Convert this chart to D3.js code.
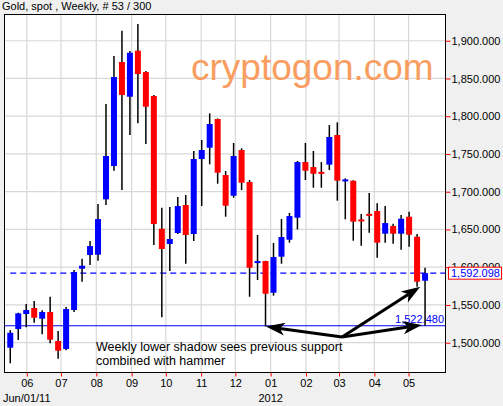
<!DOCTYPE html>
<html><head><meta charset="utf-8">
<script src="https://cdn.jsdelivr.net/npm/d3@7/dist/d3.min.js"></script>
<style>
html,body{margin:0;padding:0;background:#f0f0f0;}
svg{display:block;font-family:"Liberation Sans",Arial,sans-serif;}
</style></head>
<body>
<svg id="chart" width="503" height="406"></svg>
<script>
// ---- data (weekly gold spot candles) ----
const title = "Gold, spot , Weekly, # 53 / 300";
const firstWeek = "2011-05-17T12:00:00Z";
const open  = [1493.4,1518.1,1538.0,1546.0,1531.8,1540.7,1502.3,1491.7,1543.3,1598.0,1616.2,1616.6,1689.9,1734.0,1871.8,1825.8,1886.8,1858.5,1826.8,1651.0,1630.7,1645.3,1682.4,1644.0,1743.3,1758.3,1796.3,1722.1,1694.7,1755.2,1712.9,1606.2,1608.2,1566.2,1613.9,1636.4,1665.6,1739.3,1732.7,1725.4,1735.8,1775.1,1714.4,1714.6,1662.6,1669.9,1674.4,1644.4,1654.6,1644.4,1666.9,1640.4,1582.1];
const high  = [1516.7,1539.7,1551.3,1555.2,1542.9,1560.9,1515.5,1547.3,1596.3,1611.3,1634.7,1683.7,1816.2,1879.7,1913.2,1886.4,1922.1,1859.9,1828.1,1678.8,1679.7,1693.0,1695.6,1753.9,1768.5,1803.8,1797.0,1727.4,1764.5,1757.5,1715.5,1642.7,1608.5,1632.0,1663.8,1671.8,1740.7,1764.5,1753.9,1739.3,1788.3,1791.9,1717.7,1715.1,1670.5,1698.3,1684.6,1681.0,1657.6,1669.1,1673.5,1644.0,1599.3];
const low   = [1472.7,1503.6,1520.4,1526.5,1511.1,1499.2,1478.8,1489.9,1540.7,1580.8,1602.9,1608.6,1682.4,1727.8,1702.2,1775.1,1790.6,1763.2,1629.4,1533.6,1595.0,1644.0,1604.6,1634.7,1681.0,1736.3,1710.6,1666.9,1692.0,1702.2,1560.9,1583.0,1521.5,1562.3,1604.6,1632.5,1650.0,1715.5,1705.3,1705.3,1728.7,1688.1,1663.5,1635.1,1628.5,1645.7,1612.6,1632.5,1631.1,1623.2,1627.2,1574.2,1522.48];
const close = [1513.2,1538.9,1543.3,1533.1,1540.7,1504.0,1489.4,1544.6,1593.6,1602.0,1628.0,1663.8,1747.3,1851.9,1828.1,1884.1,1855.9,1812.6,1657.2,1624.1,1637.4,1681.0,1642.7,1743.3,1755.2,1789.7,1725.2,1681.5,1747.3,1711.9,1599.3,1607.4,1564.9,1613.5,1640.0,1667.8,1739.3,1727.8,1723.8,1724.6,1772.5,1714.6,1715.6,1660.3,1661.4,1668.8,1632.5,1658.5,1644.4,1664.2,1643.0,1580.8,1592.098];
const priceTicks = [1500,1550,1600,1650,1700,1750,1800,1850,1900];
const monthTicks = ["2011-06-01","2011-07-01","2011-08-01","2011-09-01","2011-10-01","2011-11-01","2011-12-01","2012-01-01","2012-02-01","2012-03-01","2012-04-01","2012-05-01"];
const lastPrice = 1592.098;
const supportPrice = 1522.48;
const xDomain = ["2011-05-12T00:00:00Z","2012-06-02T00:00:00Z"];
const yDomain = [1461.2, 1935.4];
const watermark = "cryptogon.com";
const noteLines = ["Weekly lower shadow sees previous support","combined with hammer"];
// arrow anchors: [candle index, price]
const arrowFrom = [41.6, 1507.5];
const arrowTips = [[32.05, 1521.5],[51.4, 1574.2],[51.6, 1523.6]];

// ---- layout ----
const W = 503, H = 406;
const L = 4, T = 14, R = 445, B = 372;
const svg = d3.select("#chart");
const t0 = new Date(firstWeek);
const dates = open.map((_, i) => d3.utcDay.offset(t0, 7 * i));
const x = d3.scaleUtc().domain(xDomain.map(d => new Date(d))).range([L, R]);
const y = d3.scaleLinear().domain(yDomain).range([B, T]);
const xi = i => x(d3.utcHour.offset(t0, Math.round(i * 168)));
const months = monthTicks.map(s => new Date(s + "T00:00:00Z"));

svg.append("rect").attr("width", W).attr("height", H).attr("fill", "#f0f0f0");
svg.append("rect").attr("x", L).attr("y", T).attr("width", R - L).attr("height", B - T).attr("fill", "#fff");

// title
svg.append("text").attr("x", 2).attr("y", 10).attr("font-size", 11).attr("fill", "#000").text(title);

// grid
const g = svg.append("g").attr("stroke", "#d8d8d8").attr("stroke-width", 1.2);
months.forEach(m => g.append("line").attr("x1", x(m)).attr("x2", x(m)).attr("y1", T).attr("y2", B));
priceTicks.forEach(p => g.append("line").attr("x1", L).attr("x2", R).attr("y1", y(p)).attr("y2", y(p)));

// watermark
svg.append("text").attr("x", 191).attr("y", 80).attr("font-size", 37).attr("fill", "#f99d60").text(watermark);

// support & last price lines
svg.append("line").attr("x1", L).attr("x2", R).attr("y1", y(supportPrice)).attr("y2", y(supportPrice))
  .attr("stroke", "#0000ee").attr("stroke-width", 1.2);
svg.append("line").attr("x1", x(dates[0])).attr("x2", R).attr("y1", y(lastPrice)).attr("y2", y(lastPrice))
  .attr("stroke", "#0000ff").attr("stroke-width", 1.3).attr("stroke-dasharray", "6,4");

// support label
svg.append("text").attr("x", R - 1).attr("y", y(supportPrice) - 2.5).attr("text-anchor", "end")
  .attr("font-size", 11).attr("fill", "#0000ff").text(d3.format(",.3f")(supportPrice));

// candles
const bw = 6;
const cg = svg.append("g");
dates.forEach((d, i) => {
  const cx = x(d);
  cg.append("line").attr("x1", cx).attr("x2", cx).attr("y1", y(high[i])).attr("y2", y(low[i]))
    .attr("stroke", "#000").attr("stroke-width", 1.5);
});
dates.forEach((d, i) => {
  const cx = x(d);
  const up = close[i] >= open[i];
  const top = y(Math.max(open[i], close[i])), bot = y(Math.min(open[i], close[i]));
  const h = Math.max(bot - top, 2);
  cg.append("rect").attr("x", cx - bw / 2).attr("y", (top + bot) / 2 - h / 2).attr("width", bw).attr("height", h)
    .attr("fill", up ? "#0000ff" : "#ff0000");
});

// annotation
const note = svg.append("text").attr("font-size", 12.5).attr("fill", "#000");
noteLines.forEach((s, k) => note.append("tspan").attr("x", 96).attr("y", 351 + k * 14).text(s));

function arrow(x1, y1, x2, y2) {
  const dx = x2 - x1, dy = y2 - y1, len = Math.hypot(dx, dy);
  const ux = dx / len, uy = dy / len, nx = -uy, ny = ux;
  const hl = 19, hw = 6.5, notch = 5;
  const bx = x2 - ux * hl, by = y2 - uy * hl;
  const mx = x2 - ux * (hl - notch), my = y2 - uy * (hl - notch);
  svg.append("line").attr("x1", x1).attr("y1", y1).attr("x2", mx).attr("y2", my)
    .attr("stroke", "#000").attr("stroke-width", 3);
  svg.append("path").attr("d", `M${x2},${y2}L${bx + nx * hw},${by + ny * hw}L${mx},${my}L${bx - nx * hw},${by - ny * hw}Z`)
    .attr("fill", "#000");
}
arrowTips.forEach(t => arrow(xi(arrowFrom[0]), y(arrowFrom[1]), xi(t[0]), y(t[1])));

// frame
svg.append("rect").attr("x", L + 0.5).attr("y", T + 0.5).attr("width", R - L).attr("height", B - T)
  .attr("fill", "none").attr("stroke", "#000").attr("stroke-width", 1);

// right axis
const ya = svg.append("g").attr("transform", `translate(${R + 0.5},0)`)
  .call(d3.axisRight(y).tickValues(priceTicks).tickSize(5).tickPadding(1).tickFormat(d3.format(",.3f")));
ya.select(".domain").remove();
ya.selectAll("line").attr("stroke", "#ff0000");
ya.selectAll("text").attr("font-size", 11).attr("fill", "#000").attr("font-family", "Liberation Sans, Arial, sans-serif");

// bottom axis
const xa = svg.append("g").attr("transform", `translate(0,${B + 0.5})`)
  .call(d3.axisBottom(x).tickValues(months).tickSize(4).tickPadding(3).tickFormat(d3.utcFormat("%m")));
xa.select(".domain").remove();
xa.selectAll("line").attr("stroke", "#ff0000");
xa.selectAll("text").attr("font-size", 11).attr("fill", "#000").attr("font-family", "Liberation Sans, Arial, sans-serif");

svg.append("text").attr("x", 3).attr("y", 402).attr("font-size", 11).attr("fill", "#000").text("Jun/01/11");
svg.append("text").attr("x", x(new Date("2012-01-01T00:00:00Z"))).attr("y", 402).attr("text-anchor", "middle")
  .attr("font-size", 11).attr("fill", "#000").text("2012");

// last price box
const ly = y(lastPrice);
svg.append("rect").attr("x", 448.5).attr("y", ly - 6).attr("width", 53).attr("height", 12)
  .attr("fill", "#fff").attr("stroke", "#ff0000").attr("stroke-width", 1);
svg.append("text").attr("x", 451).attr("y", ly).attr("dy", "0.35em").attr("font-size", 11)
  .attr("fill", "#0000ff").text(d3.format(",.3f")(lastPrice));
</script>
</body></html>
